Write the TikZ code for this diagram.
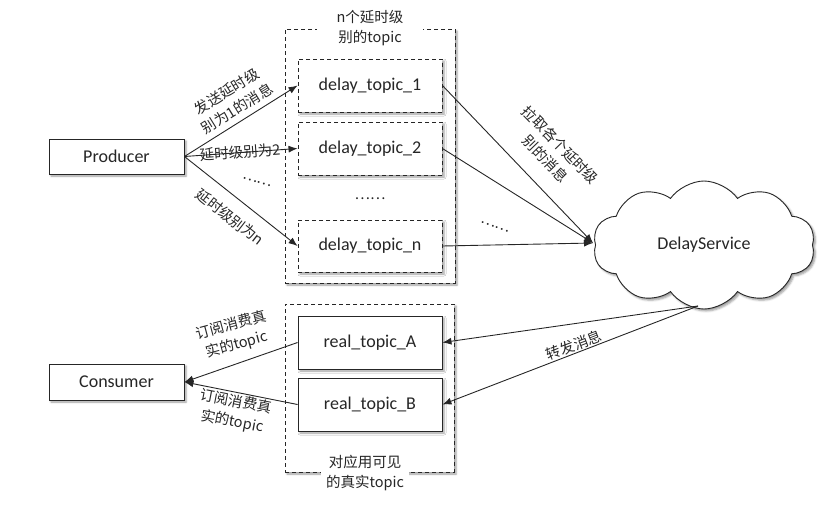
\documentclass[tikz,border=0pt]{standalone}
\usepackage{fontspec}
\setmainfont{Carlito}
\newfontfamily\cjk{Noto Sans CJK SC}
\usetikzlibrary{arrows.meta,shapes.symbols,shadows.blur}
\begin{document}
\begin{tikzpicture}[x=1pt,y=-1pt,
  font=\fontsize{18}{21}\selectfont,
  softshadow/.style={blur shadow={shadow xshift=2pt,shadow yshift=-2pt,
      shadow blur radius=2pt,shadow opacity=40}},
  dashpat/.style={dash pattern=on 4pt off 3pt},
  box/.style={draw=black!85, line width=0.9pt, fill=white, text=black!85,
      minimum width=144pt, minimum height=53pt, softshadow},
  dbox/.style={box, dashpat},
  group/.style={draw=black!85, line width=0.9pt, fill=white, dashpat, softshadow},
  endbox/.style={box, minimum width=135pt, minimum height=35pt},
  lbl/.style={text=black!85, font=\cjk\fontsize{14.5}{20}\selectfont,
      align=center, inner sep=1pt},
  arr/.style={draw=black!85, line width=0.9pt, -{Latex[length=9pt,width=7pt]}},
]
\useasboundingbox (0,0) rectangle (835,509);

% delay topic group
\node[group, minimum width=170pt, minimum height=254pt] (dgroup) at (370,156) {};
\node[lbl, fill=white, inner xsep=20pt, inner ysep=1pt] (dtitle) at (370,28) {n个延时级\\别的topic};
\node[dbox] (d1) at (370,85.5) {delay\_topic\_1};
\node[dbox] (d2) at (370,148.5) {delay\_topic\_2};
\node[lbl] (ddots) at (370,199) {……};
\node[dbox, minimum height=52pt] (dn) at (370,246) {delay\_topic\_n};

% real topic group
\node[group, minimum width=169pt, minimum height=168pt] (rgroup) at (369.5,388) {};
\node[box] (ra) at (370,342.5) {real\_topic\_A};
\node[box] (rb) at (370,404.5) {real\_topic\_B};
\node[lbl, fill=white, inner xsep=5pt, inner ysep=1pt] (rtitle) at (365,473) {对应用可见\\的真实topic};

% producer / consumer
\node[endbox] (prod) at (116.5,156.5) {Producer};
\node[endbox, minimum height=36pt] (cons) at (116.5,382) {Consumer};

% delay service cloud
\node[cloud, draw=black!85, line width=0.9pt, fill=white, softshadow,
      cloud puffs=10, cloud puff arc=110, aspect=1.75,
      minimum width=222pt, minimum height=128pt, inner sep=0pt, text=black!85] (svc) at (704,245) {DelayService};
\coordinate (svcin) at (593,243);
\coordinate (svcout) at (698,306);

% producer -> delay topics
\draw[arr] (prod.east) -- (d1.west);
\draw[arr] (prod.east) -- (d2.west);
\draw[arr] (prod.east) -- (dn.west);
\node[lbl, rotate=31.7] (l1) at (232,100) {发送延时级\\别为1的消息};
\node[lbl, rotate=4] (l2) at (240,152) {延时级别为2};
\node[lbl, rotate=-38] (ln) at (230,217) {延时级别为n};
\node[lbl, rotate=-17] (pdots) at (257,182) {……};

% delay topics -> service
\draw[arr] (d1.east) -- (svcin);
\draw[arr] (d2.east) -- (svcin);
\draw[arr] (dn.east) -- (svcin);
\node[lbl, rotate=-46] (lpull) at (553,152) {拉取各个延时级\\别的消息};
\node[lbl, rotate=-20] (sdots) at (495,227) {……};

% service -> real topics
\draw[arr] (svcout) -- (ra.east);
\draw[arr] (svcout) -- (rb.east);
\node[lbl, rotate=21] (lfwd) at (574,345) {转发消息};

% real topics -> consumer
\draw[arr] (ra.west) -- (cons.east);
\draw[arr] (rb.west) -- (cons.east);
\node[lbl, rotate=15] (ls1) at (234,335) {订阅消费真\\实的topic};
\node[lbl, rotate=-11] (ls2) at (234,412) {订阅消费真\\实的topic};
\end{tikzpicture}
\end{document}
